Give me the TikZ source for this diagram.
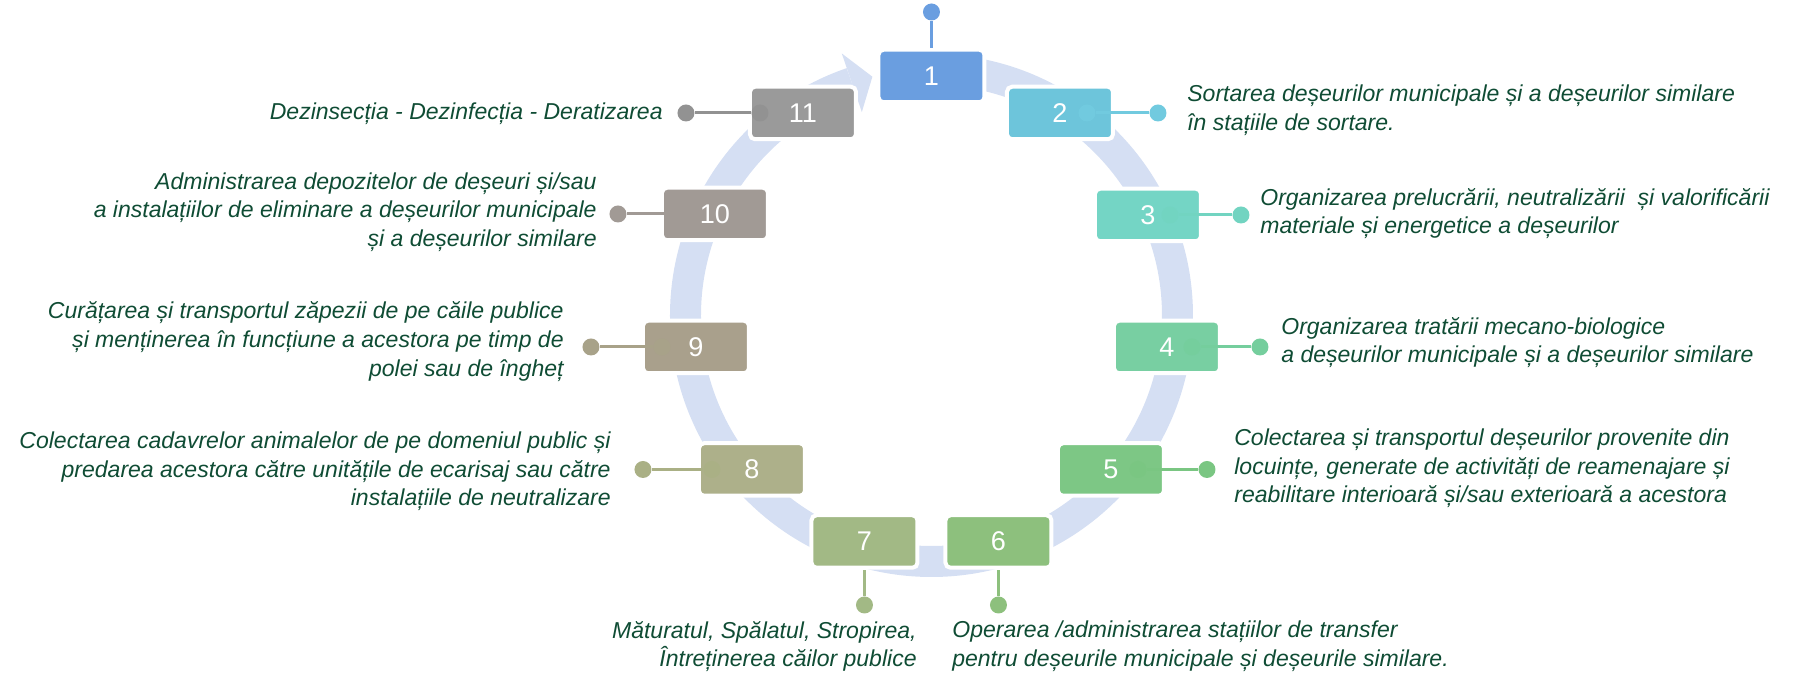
\documentclass[tikz,border=0pt]{standalone}
\usepackage{fontspec}
\setmainfont{Liberation Sans}
\usetikzlibrary{}

\definecolor{ringblue}{HTML}{D5DFF3}
\definecolor{deeptext}{HTML}{0F4C34}
\definecolor{c1}{HTML}{6A9EE0}
\definecolor{c2}{HTML}{6DC5DB}
\definecolor{c3}{HTML}{74D5C5}
\definecolor{c4}{HTML}{78CFA2}
\definecolor{c5}{HTML}{7DC785}
\definecolor{c6}{HTML}{8DC07D}
\definecolor{c7}{HTML}{A2B985}
\definecolor{c8}{HTML}{ADB08A}
\definecolor{c9}{HTML}{A9A08C}
\definecolor{c10}{HTML}{A19A95}
\definecolor{c11}{HTML}{9A9A9A}
\definecolor{l2}{HTML}{71CADF}
\definecolor{l3}{HTML}{72D4C1}
\definecolor{l4}{HTML}{75CE9D}
\definecolor{l5}{HTML}{7AC682}
\definecolor{l8}{HTML}{AAB085}
\definecolor{l9}{HTML}{A8A289}
\definecolor{l11}{HTML}{929292}

\begin{document}
\begin{tikzpicture}[
    stepbox/.style={rectangle, rounded corners=0.1cm, fill=#1, draw=white, line width=0.08cm,
        minimum width=2.12cm, minimum height=1.05cm, text=white, font=\fontsize{15.4}{18}\selectfont},
    enddot/.style={circle, fill=#1, inner sep=0pt, minimum size=0.34cm},
    link/.style={draw=#1, line width=1.7pt},
    vlink/.style={draw=#1, line width=1.2pt},
    desc/.style={text=deeptext, inner sep=0pt, font=\itshape\fontsize{13.1}{16.3}\selectfont}
]

    \useasboundingbox (-18.63,-7.15) rectangle (17.35,6.31);

    % ring
    \draw[ringblue, line width=0.62cm] (90:4.92) arc[start angle=90, end angle=-251.1, radius=4.92];
    \fill[ringblue] (108.9:5.54) -- (103.9:4.92) -- (108.9:4.30) -- cycle;

    \node[stepbox=c1] (b1) at (0,4.79) {1};
    \node[stepbox=c2] (b2) at (2.57,4.05) {2};
    \node[stepbox=c3] (b3) at (4.33,2.01) {3};
    \node[stepbox=c4] (b4) at (4.71,-0.63) {4};
    \node[stepbox=c5] (b5) at (3.59,-3.08) {5};
    \node[stepbox=c6] (b6) at (1.34,-4.52) {6};
    \node[stepbox=c7] (b7) at (-1.34,-4.52) {7};
    \node[stepbox=c8] (b8) at (-3.59,-3.08) {8};
    \node[stepbox=c9] (b9) at (-4.71,-0.63) {9};
    \node[stepbox=c10] (b10) at (-4.33,2.03) {10};
    \node[stepbox=c11] (b11) at (-2.57,4.05) {11};

    \node[enddot=c1] (d1) at (0,6.07) {};
    \node[enddot=l2] (d2) at (4.53,4.05) {};
    \node[enddot=l3] (d3) at (6.19,2.01) {};
    \node[enddot=l4] (d4) at (6.57,-0.63) {};
    \node[enddot=l5] (d5) at (5.51,-3.08) {};
    \node[enddot=c6] (d6) at (1.34,-5.79) {};
    \node[enddot=c7] (d7) at (-1.34,-5.79) {};
    \node[enddot=l8] (d8) at (-5.77,-3.08) {};
    \node[enddot=l9] (d9) at (-6.81,-0.63) {};
    \node[enddot=c10] (d10) at (-6.27,2.03) {};
    \node[enddot=l11] (d11) at (-4.91,4.05) {};

    \node[enddot=l2] (i2) at (3.11,4.05) {};
    \node[enddot=l3] (i3) at (4.77,2.01) {};
    \node[enddot=l4] (i4) at (5.21,-0.63) {};
    \node[enddot=l5] (i5) at (4.13,-3.08) {};
    \node[enddot=l8] (i8) at (-4.39,-3.08) {};
    \node[enddot=l9] (i9) at (-5.39,-0.63) {};
    \coordinate (i10) at (-5.1,2.03);
    \node[enddot=l11] (i11) at (-3.43,4.05) {};

    \draw[vlink=c1] (d1) -- (b1);
    \draw[link=l2] (d2) -- (i2);
    \draw[link=l3] (d3) -- (i3);
    \draw[link=l4] (d4) -- (i4);
    \draw[link=l5] (d5) -- (i5);
    \draw[vlink=c6] (d6) -- (b6);
    \draw[vlink=c7] (d7) -- (b7);
    \draw[link=l8] (d8) -- (i8);
    \draw[link=l9] (d9) -- (i9);
    \draw[link=c10] (d10) -- (i10);
    \draw[link=l11] (d11) -- (i11);

    \node[desc, anchor=west, align=left] (t2) at (5.11,4.10)
        {Sortarea deșeurilor municipale și a deșeurilor similare\\în stațiile de sortare.};
    \node[desc, anchor=west, align=left] (t3) at (6.57,2.04)
        {Organizarea prelucrării, neutralizării\ \ și valorificării\\materiale și energetice a deșeurilor};
    \node[desc, anchor=west, align=left] (t4) at (6.99,-0.54)
        {Organizarea tratării mecano-biologice\\a deșeurilor municipale și a deșeurilor similare};
    \node[desc, anchor=west, align=left] (t5) at (6.05,-3.06)
        {Colectarea și transportul deșeurilor provenite din\\locuințe, generate de activități de reamenajare și\\reabilitare interioară și/sau exterioară a acestora};
    \node[desc, anchor=west, align=left] (t6) at (0.41,-6.62)
        {Operarea /administrarea stațiilor de transfer\\pentru deșeurile municipale și deșeurile similare.};
    \node[desc, anchor=east, align=right] (t7) at (-0.29,-6.62)
        {Măturatul, Spălatul, Stropirea,\\Întreținerea căilor publice};
    \node[desc, anchor=east, align=right] (t8) at (-6.41,-3.12)
        {Colectarea cadavrelor animalelor de pe domeniul public și\\predarea acestora către unitățile de ecarisaj sau către\\instalațiile de neutralizare};
    \node[desc, anchor=east, align=right] (t9) at (-7.35,-0.52)
        {Curățarea și transportul zăpezii de pe căile publice\\și menținerea în funcțiune a acestora pe timp de\\polei sau de îngheț};
    \node[desc, anchor=east, align=right] (t10) at (-6.69,2.07)
        {Administrarea depozitelor de deșeuri și/sau\\a instalațiilor de eliminare a deșeurilor municipale\\și a deșeurilor similare};
    \node[desc, anchor=east] (t11) at (-5.37,4.03) {Dezinsecția - Dezinfecția - Deratizarea};

\end{tikzpicture}
\end{document}
